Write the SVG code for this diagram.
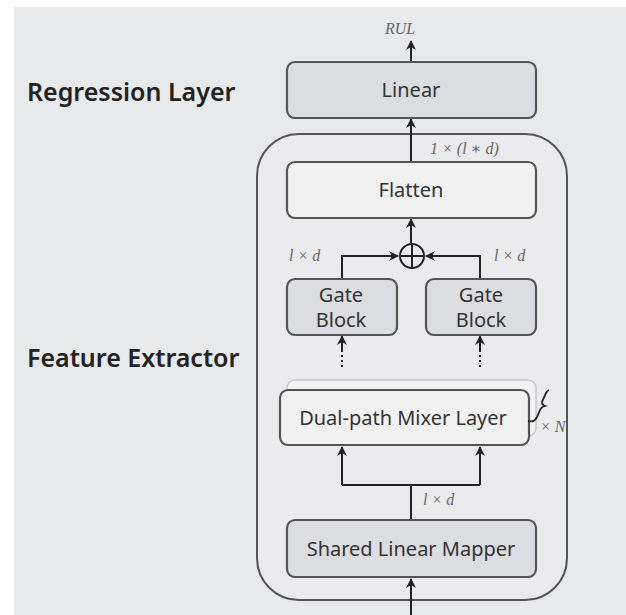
<svg xmlns="http://www.w3.org/2000/svg" width="626" height="615" viewBox="0 0 626 615">
<defs>
<style>
.box{stroke:#555;stroke-width:2.2;}
.dark{fill:#dcdde1;}
.light{fill:#f1f1f2;}
.lbl{font-family:"Noto Sans","Open Sans",sans-serif;font-size:20px;fill:#333;text-anchor:middle;}
.side{font-family:"Noto Sans","Open Sans",sans-serif;font-size:25px;font-weight:600;fill:#222;}
.math{font-family:"Liberation Serif","DejaVu Serif",serif;font-style:italic;font-size:16px;fill:#666;}
.ln{stroke:#222;stroke-width:2;fill:none;}
</style>
<marker id="ah" viewBox="0 0 10 10" refX="9" refY="5" markerWidth="5" markerHeight="5" orient="auto">
<path d="M0,0 L10,5 L0,10 L3,5 Z" fill="#222"/>
</marker>
</defs>
<rect x="0" y="0" width="626" height="615" fill="#ffffff"/>
<rect x="14" y="7" width="612" height="608" fill="#e8e9eb"/>

<g id="labels">
<text class="side" x="27" y="101">Regression Layer</text>
<text class="side" x="27" y="367">Feature Extractor</text>
</g>

<g id="container">
<rect x="257" y="134" width="310" height="466" rx="42" fill="#ebebed" stroke="#555" stroke-width="2"/>
</g>

<g id="connectors">
<line class="ln" x1="411" y1="62" x2="411" y2="41" marker-end="url(#ah)"/>
<line class="ln" x1="411" y1="162" x2="411" y2="119" marker-end="url(#ah)"/>
<line class="ln" x1="411" y1="243" x2="411" y2="219" marker-end="url(#ah)"/>
<polyline class="ln" points="342,279 342,256 398,256" marker-end="url(#ah)"/>
<polyline class="ln" points="480,279 480,256 426,256" marker-end="url(#ah)"/>
<line class="ln" x1="342" y1="350" x2="342" y2="336" marker-end="url(#ah)"/>
<line x1="342" y1="350" x2="342" y2="368" stroke="#222" stroke-width="2" stroke-dasharray="2,3"/>
<line class="ln" x1="480" y1="350" x2="480" y2="336" marker-end="url(#ah)"/>
<line x1="480" y1="350" x2="480" y2="368" stroke="#222" stroke-width="2" stroke-dasharray="2,3"/>
<polyline class="ln" points="411,520 411,485"/>
<polyline class="ln" points="342,485 480,485"/>
<line class="ln" x1="342" y1="485" x2="342" y2="447" marker-end="url(#ah)"/>
<line class="ln" x1="480" y1="485" x2="480" y2="447" marker-end="url(#ah)"/>
<line class="ln" x1="411" y1="615" x2="411" y2="579" marker-end="url(#ah)"/>
</g>

<g id="sum">
<circle cx="412" cy="256" r="12" fill="none" stroke="#222" stroke-width="2"/>
<line x1="400" y1="256" x2="424" y2="256" stroke="#222" stroke-width="2"/>
<line x1="412" y1="244" x2="412" y2="268" stroke="#222" stroke-width="2"/>
</g>

<g id="math-labels">
<text class="math" x="400" y="34" text-anchor="middle" font-size="19" fill="#444">RUL</text>
<text class="math" x="430" y="154">1 × (l ∗ d)</text>
<text class="math" x="289" y="261">l × d</text>
<text class="math" x="494" y="261">l × d</text>
<text class="math" x="423" y="505">l × d</text>
<text class="math" x="540" y="432" font-size="11">× N</text>
</g>

<g id="linear">
<rect class="box dark" x="287" y="62" width="249" height="56" rx="8"/>
<text class="lbl" x="411" y="97">Linear</text>
</g>

<g id="flatten">
<rect class="box light" x="287" y="162" width="249" height="56" rx="8"/>
<text class="lbl" x="411" y="197">Flatten</text>
</g>

<g id="gate-left">
<rect class="box dark" x="287" y="279" width="110" height="56" rx="8"/>
<text class="lbl" x="341" y="302">Gate</text>
<text class="lbl" x="341" y="327">Block</text>
</g>

<g id="gate-right">
<rect class="box dark" x="426" y="279" width="110" height="56" rx="8"/>
<text class="lbl" x="481" y="302">Gate</text>
<text class="lbl" x="481" y="327">Block</text>
</g>

<g id="mixer">
<rect x="287" y="380" width="249" height="56" rx="8" fill="#f3f3f4" stroke="#c8c8cc" stroke-width="1.5"/>
<rect class="box light" x="280" y="390" width="249" height="55" rx="8"/>
<text class="lbl" x="403" y="425">Dual-path Mixer Layer</text>
<path d="M528,421 C533,422 535,421 537,417 L540,410 Q541,407 545,406 Q542,405 542,402 L546,393 Q547,391 549,390" fill="none" stroke="#222" stroke-width="1.8"/>
</g>

<g id="mapper">
<rect class="box dark" x="287" y="520" width="249" height="57" rx="8"/>
<text class="lbl" x="411" y="556">Shared Linear Mapper</text>
</g>
</svg>
